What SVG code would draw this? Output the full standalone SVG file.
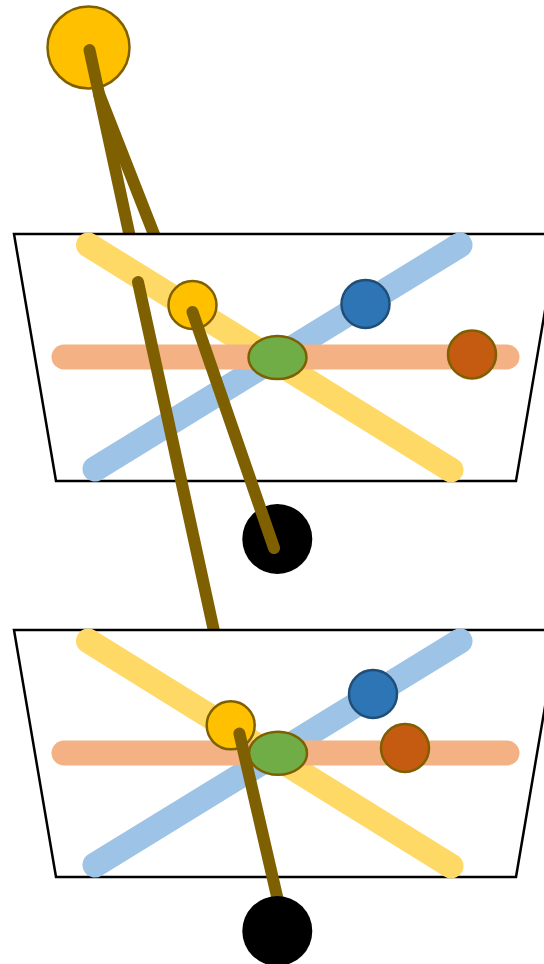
<svg xmlns="http://www.w3.org/2000/svg" width="544" height="964" viewBox="0 0 544 964">
  <style>
    .plane { fill: #ffffff; stroke: #000000; stroke-width: 2.5; stroke-linejoin: miter; }
    .band { fill: none; stroke-width: 25; stroke-linecap: round; }
    .band-y { stroke: #ffd966; }
    .band-b { stroke: #9dc3e6; }
    .band-o { stroke: #f4b183; }
    .link { fill: none; stroke: #7f6000; stroke-width: 12; stroke-linecap: round; }
    .gold { fill: #ffc000; stroke: #7f6000; stroke-width: 2.5; }
    .navy { fill: #2e75b6; stroke: #1f4e79; stroke-width: 2.5; }
    .rust { fill: #c55a11; stroke: #7f6000; stroke-width: 2.5; }
    .leaf { fill: #70ad47; stroke: #7f6000; stroke-width: 2.5; }
    .sink { fill: #000000; }
  </style>

  <!-- source node -->
  <g id="source">
    <circle class="gold" cx="88.5" cy="47.5" r="41"/>
  </g>

  <!-- links leaving the source, passing behind the upper plane -->
  <g id="connectors-top">
    <line class="link" x1="89.5" y1="50" x2="131" y2="242"/>
    <line class="link" x1="99" y1="94" x2="157" y2="242"/>
  </g>

  <!-- upper plane -->
  <g id="plane-1">
    <polygon class="plane" points="14,234 558,234 516,481 56,481"/>
    <line class="band band-y" x1="88.5" y1="245" x2="451" y2="470"/>
    <line class="band band-b" x1="460" y1="245" x2="95" y2="469"/>
    <line class="band band-o" x1="64" y1="357" x2="507" y2="357"/>
  </g>
  <g id="p1-gold"><circle class="gold" cx="192.5" cy="305" r="24"/></g>
  <g id="p1-navy"><circle class="navy" cx="365.5" cy="304" r="24"/></g>
  <g id="p1-rust"><circle class="rust" cx="472" cy="354.5" r="24"/></g>
  <g id="p1-leaf"><ellipse class="leaf" cx="277.5" cy="357.5" rx="29" ry="21.5"/></g>

  <!-- first sink -->
  <g id="sink-1"><circle class="sink" cx="277.3" cy="539" r="35"/></g>

  <!-- links crossing the upper plane -->
  <g id="connectors-middle">
    <line class="link" x1="138" y1="282" x2="217" y2="645"/>
    <line class="link" x1="192.5" y1="312" x2="274" y2="548"/>
  </g>

  <!-- lower plane -->
  <g id="plane-2">
    <polygon class="plane" points="14,630 558,630 516,877 56,877"/>
    <line class="band band-y" x1="88.5" y1="641" x2="451" y2="866"/>
    <line class="band band-b" x1="460" y1="641" x2="95" y2="865"/>
    <line class="band band-o" x1="64" y1="753" x2="507" y2="753"/>
  </g>
  <g id="p2-gold"><circle class="gold" cx="230.7" cy="725.3" r="24"/></g>
  <g id="p2-navy"><circle class="navy" cx="373" cy="694" r="24"/></g>
  <g id="p2-rust"><circle class="rust" cx="405" cy="748" r="24"/></g>
  <g id="p2-leaf"><ellipse class="leaf" cx="278" cy="753.3" rx="29" ry="21.5"/></g>

  <!-- link down to the second sink -->
  <g id="connectors-bottom">
    <line class="link" x1="239.4" y1="733.5" x2="279" y2="905"/>
  </g>

  <!-- second sink -->
  <g id="sink-2"><circle class="sink" cx="277.3" cy="931" r="35"/></g>
</svg>
